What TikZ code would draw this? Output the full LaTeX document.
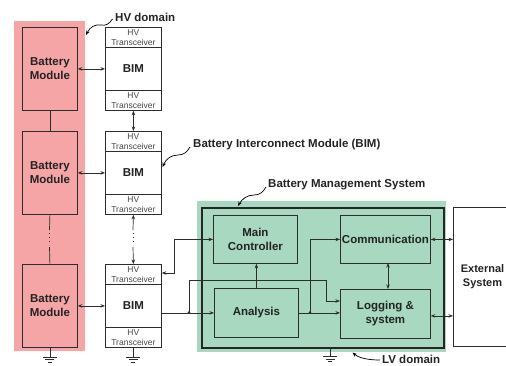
\documentclass[tikz,border=0pt]{standalone}
\usepackage{fontspec}
\setmainfont{Liberation Sans}
\usetikzlibrary{arrows.meta}
\definecolor{pinkc}{RGB}{245,165,166}
\definecolor{greenc}{RGB}{168,216,192}
\definecolor{linec}{RGB}{45,45,45}
\definecolor{txtc}{RGB}{35,35,35}
\definecolor{trc}{RGB}{70,70,70}
\begin{document}
\begin{tikzpicture}[x=1pt,y=-1pt,
  lbl/.style={font=\fontsize{11.5}{14}\selectfont\bfseries, text=txtc, align=center},
  modbox/.style={draw=linec, line width=0.8pt, fill=pinkc, lbl, minimum width=55pt, minimum height=83pt, anchor=north west, inner sep=0pt},
  trbox/.style={draw=linec, line width=0.8pt, fill=white, font=\fontsize{8.5}{10.5}\selectfont, text=trc, align=center, minimum width=56pt, minimum height=20pt, anchor=north west, inner sep=0pt},
  bimbox/.style={draw=linec, line width=0.8pt, fill=white, lbl, minimum width=56pt, minimum height=43pt, anchor=north west, inner sep=0pt},
  blk/.style={draw=linec, line width=0.8pt, fill=greenc, lbl, anchor=north west, inner sep=0pt},
  conn/.style={draw=linec, line width=0.7pt},
  arr/.style={conn, -{Stealth[length=4.5pt,width=3.5pt]}},
  dbl/.style={conn, {Stealth[length=4.5pt,width=3.5pt]}-{Stealth[length=4.5pt,width=3.5pt]}},
  dotline/.style={conn, line width=0.9pt, dash pattern=on 1.2pt off 2.8pt},
  note/.style={font=\fontsize{11.5}{14}\selectfont\bfseries, text=txtc, anchor=west, inner sep=0pt},
  callout/.style={draw=black, line width=0.7pt, -{Stealth[length=4.5pt,width=3.5pt]}},
  jdot/.style={circle, fill=linec, inner sep=0pt, minimum size=2.6pt},
  gnd/.pic={\draw[conn] (0,0) -- (0,9);
            \draw[conn, line width=0.9pt] (-7,9.5) -- (7,9.5);
            \draw[conn, line width=0.9pt] (-4.5,12) -- (4.5,12);
            \draw[conn, line width=0.9pt] (-2,14.5) -- (2,14.5);}
]
\useasboundingbox (0,0) rectangle (506,365);

% backgrounds
\node[fill=pinkc, minimum width=71pt, minimum height=330pt, anchor=north west, inner sep=0pt] (hv) at (14,21) {};
\node[fill=greenc, minimum width=249pt, minimum height=151pt, anchor=north west, inner sep=0pt] (lv) at (197,201) {};
\node[draw=black!85, line width=2pt, minimum width=242pt, minimum height=140pt, anchor=north west, inner sep=0pt] (bms) at (201,207) {};

% battery modules
\node[modbox] (m1) at (22,27) {Battery\\Module};
\node[modbox] (m2) at (22,131) {Battery\\Module};
\node[modbox] (m3) at (22,264) {Battery\\Module};

% BIMs
\node[trbox] (t1) at (105,27) {HV\\Transceiver};
\node[bimbox] (b1) at (105,47) {BIM};
\node[trbox] (u1) at (105,90) {HV\\Transceiver};
\node[trbox] (t2) at (105,131) {HV\\Transceiver};
\node[bimbox] (b2) at (105,151) {BIM};
\node[trbox] (u2) at (105,194) {HV\\Transceiver};
\node[trbox] (t3) at (105,264) {HV\\Transceiver};
\node[bimbox] (b3) at (105,284) {BIM};
\node[trbox] (u3) at (105,327) {HV\\Transceiver};

% BMS blocks
\node[blk, minimum width=84pt, minimum height=48pt] (mc) at (213,215) {Main\\Controller};
\node[blk, minimum width=84pt, minimum height=49pt] (an) at (214,288) {Analysis};
\node[blk, minimum width=90pt, minimum height=48pt] (cm) at (340,215) {Communication};
\node[blk, minimum width=90pt, minimum height=49pt] (lg) at (340,289) {Logging \&\\system};

% external system
\coordinate (ex1) at (453,207);
\coordinate (ex2) at (453,346);
\draw[linec, line width=0.8pt] (506,207) -- (ex1) -- (ex2) -- (506,346);
\node[lbl, font=\fontsize{11}{13.5}\selectfont\bfseries] (ext) at (482.5,276.5) {External\\System};

% module chain
\draw[conn] (m1.south) -- (m2.north);
\coordinate (e1) at (49.5,230);
\coordinate (e2) at (49.5,247);
\draw[conn] (m2.south) -- (e1);
\draw[dotline] ([yshift=-3pt]e1) -- ([yshift=2pt]e2);
\draw[conn] (e2) -- (m3.north);

% module <-> BIM
\draw[dbl] (m1.east) -- (b1.west);
\draw[dbl] (m2.east) -- (b2.west);
\draw[dbl] (m3.east) -- (b3.west);

% BIM chain
\draw[dbl] (u1.south) -- (t2.north);
\coordinate (d1) at (133,230);
\coordinate (d2) at (133,247);
\draw[arr] (d1) -- (u2.south);
\draw[dotline] ([yshift=-3pt]d1) -- ([yshift=2pt]d2);
\draw[arr] (d2) -- (t3.north);

% BIM3 <-> main controller
\coordinate (k1) at (174,273);
\draw[dbl] (t3.east |- k1) -- (k1) |- (mc.west);

% BIM3 -> analysis, with branch to logging
\coordinate (j1) at (189,312.5);
\draw[arr] (b3.east |- an.west) -- (an.west);
\coordinate (k2) at (326,280);
\draw[arr] (j1) |- (k2) -- (326,301) -- (lg.west |- 0,301);
\node[jdot] (j1d) at (j1) {};

% analysis -> main controller
\draw[arr] (an.north) -- (an.north |- mc.south);

% analysis -> logging, communication
\coordinate (j2) at (310,312.5);
\draw[arr] (an.east) -- (an.east -| lg.west);
\draw[arr] (j2) |- (cm.west);
\node[jdot] (j2d) at (j2) {};

% communication <-> logging
\draw[dbl] (388,263) -- (388,289);

% to external
\draw[dbl] (cm.east) -- (cm.east -| ex1);
\draw[dbl] ([yshift=-2pt]lg.east) -- ([yshift=-2pt]lg.east -| ex1);

% grounds
\pic at (m3.south) {gnd};
\pic at (u3.south) {gnd};
\pic at (330,347) {gnd};

% annotations
\node[note] (hvl) at (115,17) {HV domain};
\draw[callout] (112.5,19) .. controls (109,24) and (106,26) .. (101,25) .. controls (95,24) and (90,27) .. (86,35);

\node[note] (biml) at (193,145) {Battery Interconnect Module (BIM)};
\draw[callout] (190,147) .. controls (187,152) and (184,155) .. (178,155) .. controls (171,155) and (166,159) .. (162.5,167);

\node[note] (bmsl) at (268,185) {Battery Management System};
\draw[callout] (266,187) .. controls (263,192) and (260,195) .. (254,195) .. controls (247,195) and (242,199) .. (238,206);

\node[note] (lvl) at (382,359) {LV domain};
\draw[callout] (380,360) .. controls (368,360) and (359,358) .. (352.5,352.5);
\end{tikzpicture}
\end{document}
